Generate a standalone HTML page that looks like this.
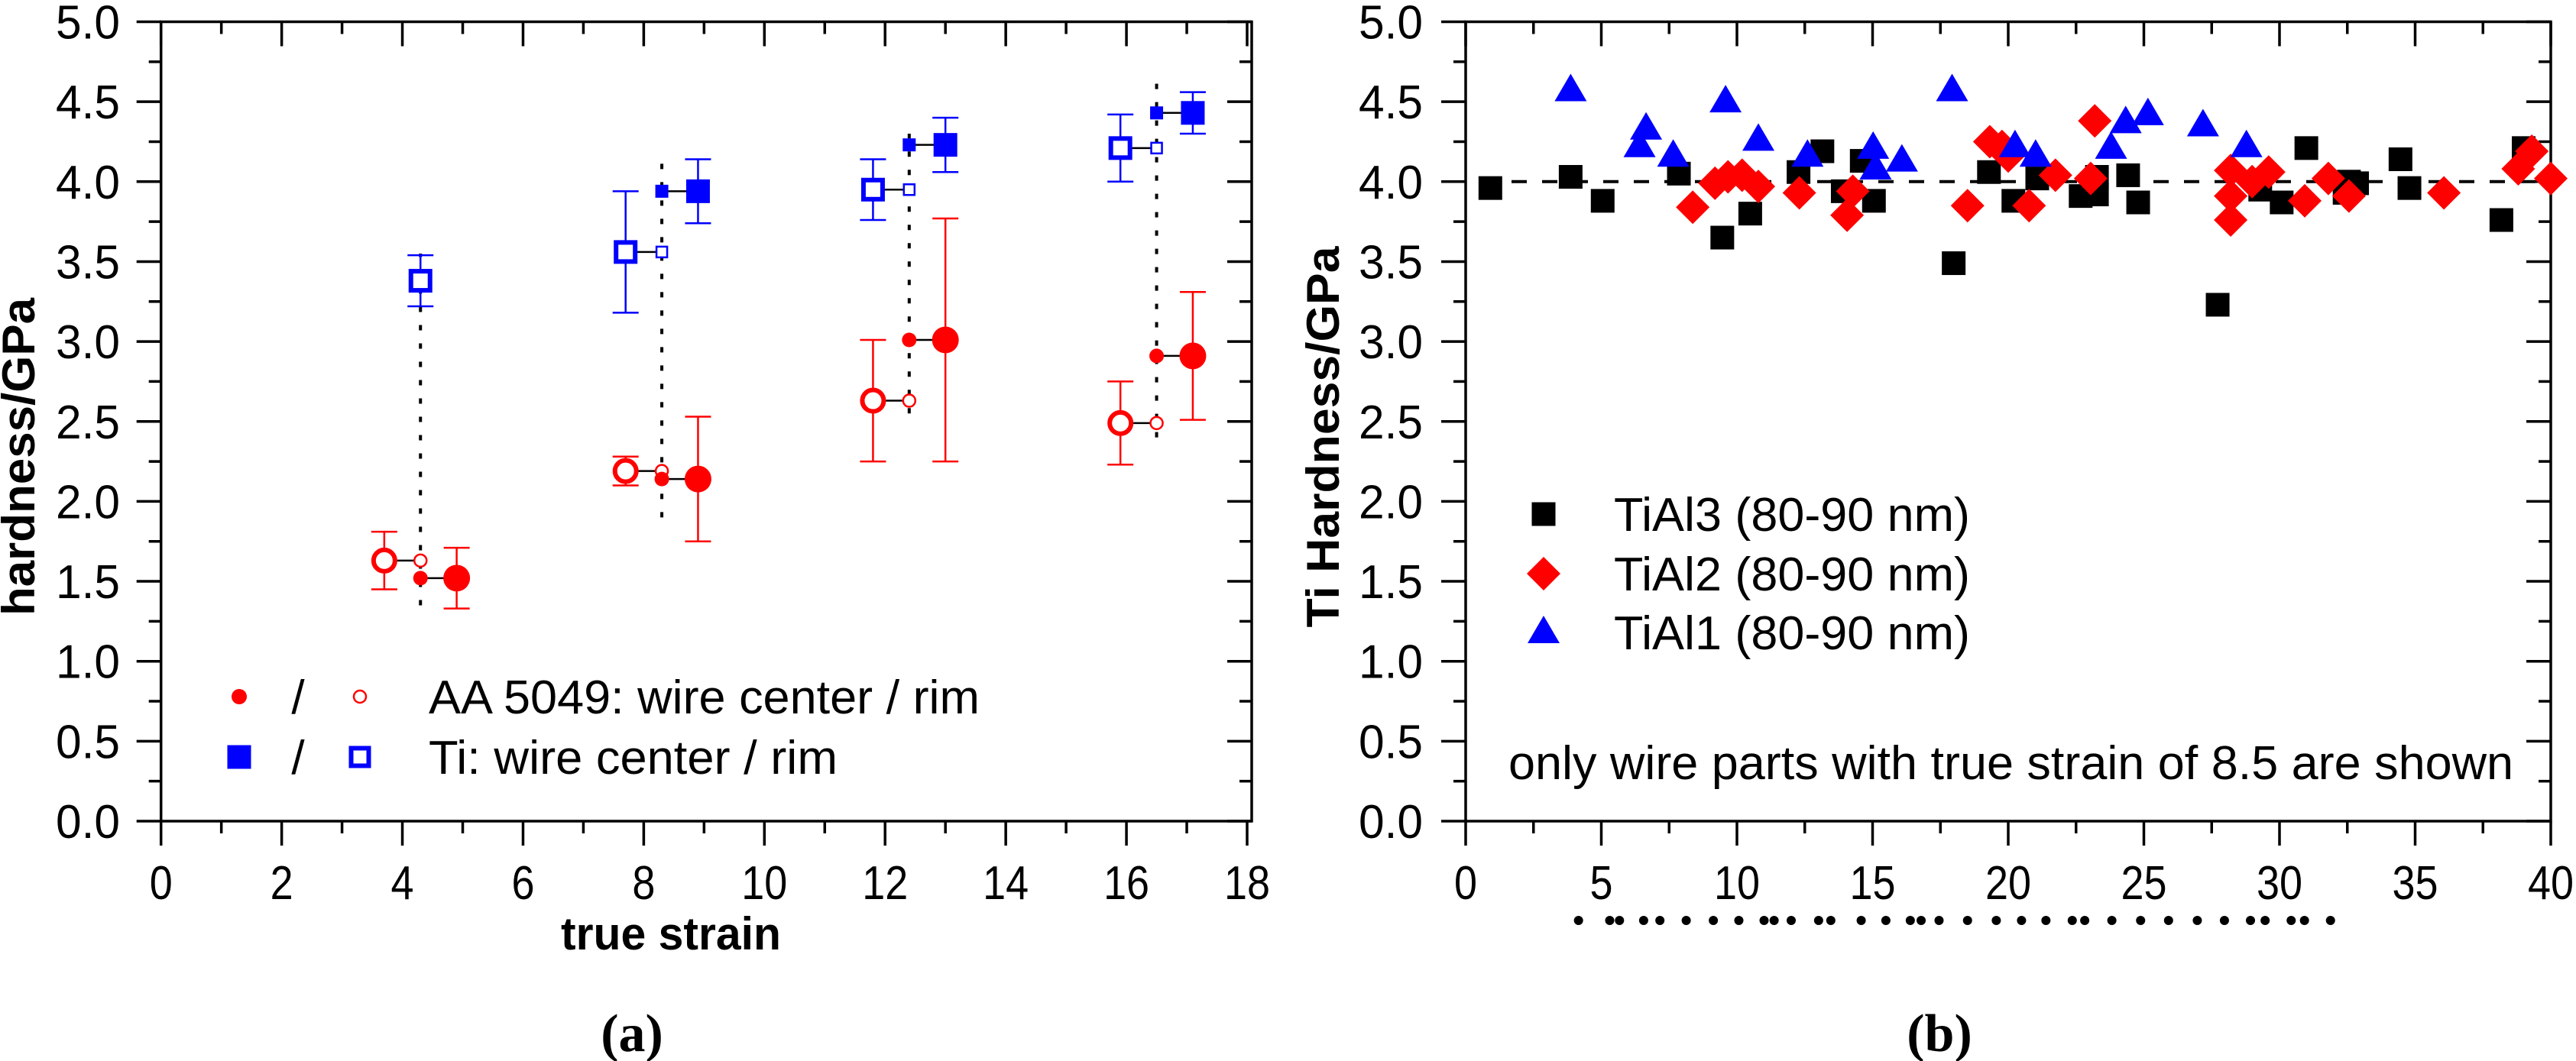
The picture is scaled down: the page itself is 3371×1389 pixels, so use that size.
<!DOCTYPE html>
<html><head><meta charset="utf-8"><style>
html,body{margin:0;padding:0;background:#fff;}
svg{display:block;}
text{font-family:"Liberation Sans Narrow","Liberation Sans",sans-serif;}
</style></head><body>
<svg id="fig" width="3371" height="1389" viewBox="0 0 3371 1389" xmlns="http://www.w3.org/2000/svg"></svg>
<script>
// ---------- Chart (a) data ----------
const aGroups = [4.3, 8.3, 12.4, 16.5];
const tiRimBig = [3.38, 3.56, 3.95, 4.21];
const tiRimBigLo = [3.22, 3.18, 3.76, 4.00];
const tiRimBigHi = [3.54, 3.94, 4.14, 4.42];
const tiCenter = [null, 3.94, 4.23, 4.43];
const tiCenterLo = [null, 3.74, 4.06, 4.30];
const tiCenterHi = [null, 4.14, 4.40, 4.56];
const alRim = [1.63, 2.19, 2.63, 2.49];
const alRimLo = [1.45, 2.10, 2.25, 2.23];
const alRimHi = [1.81, 2.28, 3.01, 2.75];
const alCenter = [1.52, 2.14, 3.01, 2.91];
const alCenterLo = [1.33, 1.75, 2.25, 2.51];
const alCenterHi = [1.71, 2.53, 3.77, 3.31];
const dotLo = [1.35, 1.90, 2.55, 2.40];
const dotHi = [3.55, 4.12, 4.30, 4.62];
const aXTicks = ["0","2","4","6","8","10","12","14","16","18"];
const yTicks = ["0.0","0.5","1.0","1.5","2.0","2.5","3.0","3.5","4.0","4.5","5.0"];
// ---------- Chart (b) data ----------
const tial3X = [0.91,3.87,5.05,7.86,9.46,10.49,12.27,13.15,13.9,14.6,15.05,17.99,19.29,20.19,21.07,22.67,23.27,23.27,24.42,24.79,27.72,29.29,30.08,30.99,32.4,32.56,32.86,34.46,34.79,38.18,39.0];
const tial3Y = [3.96,4.03,3.88,4.05,3.65,3.80,4.06,4.19,3.94,4.13,3.88,3.49,4.06,3.88,4.02,3.91,4.03,3.92,4.04,3.87,3.23,3.95,3.87,4.21,3.93,4.00,3.99,4.14,3.96,3.76,4.21];
const tial2X = [8.37,9.19,9.67,10.19,10.79,12.3,14.06,14.27,18.5,19.32,19.77,20.0,20.77,21.74,23.19,23.04,28.2,28.2,28.2,28.99,29.6,30.93,31.8,32.56,36.06,38.8,39.3,40.0];
const tial2Y = [3.84,3.99,4.03,4.04,3.97,3.93,3.79,3.94,3.85,4.25,4.22,4.16,3.85,4.04,4.38,4.02,4.07,3.76,3.91,4.00,4.06,3.88,4.02,3.91,3.93,4.08,4.19,4.02];
const tial1X = [3.87,6.41,6.65,7.65,9.58,10.79,12.6,15.02,15.11,16.08,17.93,20.25,21.01,23.79,24.33,25.15,27.18,28.78];
const tial1Y = [4.57,4.22,4.33,4.16,4.50,4.26,4.16,4.21,4.08,4.13,4.57,4.22,4.16,4.21,4.37,4.42,4.35,4.22];
const refLevel = [4.0];
const stripX = [4.16,5.31,5.67,6.56,7.16,8.13,9.13,10.07,11.0,11.37,12.0,13.01,13.46,14.58,15.49,16.39,16.79,17.45,18.5,19.56,20.49,21.39,22.36,22.82,23.82,24.88,25.91,26.97,27.97,28.93,29.47,30.43,30.92,31.88];
const bXTicks = ["0","5","10","15","20","25","30","35","40"];

const NS = "http://www.w3.org/2000/svg";
const svg = document.getElementById('fig');
function el(tag, attrs, parent, txt){
  const e = document.createElementNS(NS, tag);
  for (const k in attrs) e.setAttribute(k, attrs[k]);
  if (txt !== undefined) e.textContent = txt;
  (parent||svg).appendChild(e);
  return e;
}
// axes
const Y0 = 1075, Y5 = 28.5;
function ys(v){ return Y0 - (v/5)*(Y0-Y5); }
const aL = 210.7, aR18 = 1632, aFrameR = 1638;
function xa(v){ return aL + v*(aR18-aL)/18; }
const bL = 1918, bR = 3338;
function xb(v){ return bL + v*(bR-bL)/40; }

function frame(g, L, R, xTicksPos, xMinorPos, name){
  const f = el('rect',{x:L,y:Y5,width:R-L,height:Y0-Y5,fill:'none',stroke:'#000','stroke-width':3.5},g);
   
  // y ticks (left out, right in)
  for (let i=0;i<=20;i++){
    const v=i*0.25, y=ys(v), len = (i%2===0)?32:16;
    el('line',{x1:L-len,y1:y,x2:L,y2:y,stroke:'#000','stroke-width':3.5},g);
    el('line',{x1:R,y1:y,x2:R-len,y2:y,stroke:'#000','stroke-width':3.5},g);
  }
  xTicksPos.forEach(x=>{
    el('line',{x1:x,y1:Y0,x2:x,y2:Y0+32,stroke:'#000','stroke-width':3.5},g);
    el('line',{x1:x,y1:Y5,x2:x,y2:Y5+32,stroke:'#000','stroke-width':3.5},g);
  });
  xMinorPos.forEach(x=>{
    el('line',{x1:x,y1:Y0,x2:x,y2:Y0+16,stroke:'#000','stroke-width':3.5},g);
    el('line',{x1:x,y1:Y5,x2:x,y2:Y5+16,stroke:'#000','stroke-width':3.5},g);
  });
}
function yLabels(g, rightEdge){
  yTicks.forEach((t,i)=>{
    const tx = el('text',{x:rightEdge,y:ys(i*0.5)+22,'font-size':62,'text-anchor':'end',textLength:84,lengthAdjust:'spacingAndGlyphs'},g,t);
     
  });
}

// ================= Chart (a) =================
const ga = el('g',{});  
frame(ga, aL, aFrameR, aXTicks.map((t,i)=>xa(i*2)), aXTicks.slice(0,9).map((t,i)=>xa(i*2+1)), 'chart-a');
yLabels(ga, 157);
aXTicks.forEach((t,i)=>{
  const tx = el('text',{x:xa(i*2),y:1177,'font-size':62,'text-anchor':'middle'},ga,t);
   
  tx.setAttribute('textLength', t.length*30); tx.setAttribute('lengthAdjust','spacingAndGlyphs');
});
let t = el('text',{x:878,y:1243,'font-size':60,'font-weight':'bold','text-anchor':'middle',textLength:288,lengthAdjust:'spacingAndGlyphs'},ga,'true strain');
 
t = el('text',{x:0,y:0,'font-size':60,'font-weight':'bold','text-anchor':'middle',textLength:416,lengthAdjust:'spacingAndGlyphs',transform:'translate(45,598) rotate(-90)'},ga,'hardness/GPa');
 
t = el('text',{x:827,y:1376,'font-size':70,'font-weight':'bold','text-anchor':'middle','font-family':'Liberation Serif, serif'},ga,'(a)');
t.style.fontFamily='"Liberation Serif",serif';
 

const RED='#ff0000', BLUE='#0000ff';
function errbar(x,lo,hi,col){
  el('line',{x1:x,y1:ys(lo),x2:x,y2:ys(hi),stroke:col,'stroke-width':2.5},ga);
  el('line',{x1:x-17,y1:ys(lo),x2:x+17,y2:ys(lo),stroke:col,'stroke-width':2.5},ga);
  el('line',{x1:x-17,y1:ys(hi),x2:x+17,y2:ys(hi),stroke:col,'stroke-width':2.5},ga);
}
aGroups.forEach((g,i)=>{
  const xl = xa(g-0.6), xm = xa(g), xr = xa(g+0.6);
  // dotted
  const d = el('line',{x1:xm,y1:ys(dotLo[i]),x2:xm,y2:ys(dotHi[i]),stroke:'#000','stroke-width':4,'stroke-dasharray':'7 17'},ga);
   
  // Al rim
  errbar(xl, alRimLo[i], alRimHi[i], RED);
  el('line',{x1:xl,y1:ys(alRim[i]),x2:xm,y2:ys(alRim[i]),stroke:'#000','stroke-width':2.5},ga);
  let c = el('circle',{cx:xl,cy:ys(alRim[i]),r:14,fill:'#fff',stroke:RED,'stroke-width':6},ga);
   
  c = el('circle',{cx:xm,cy:ys(alRim[i]),r:8,fill:'#fff',stroke:RED,'stroke-width':2.5},ga);
   
  // Al center
  errbar(xr, alCenterLo[i], alCenterHi[i], RED);
  el('line',{x1:xm,y1:ys(alCenter[i]),x2:xr,y2:ys(alCenter[i]),stroke:'#000','stroke-width':2.5},ga);
  c = el('circle',{cx:xm,cy:ys(alCenter[i]),r:9.5,fill:RED},ga);
   
  c = el('circle',{cx:xr,cy:ys(alCenter[i]),r:17.5,fill:RED},ga);
   
  // Ti rim
  const txr = (i===0)? xm : xl;
  errbar(txr, tiRimBigLo[i], tiRimBigHi[i], BLUE);
  if (i>0) el('line',{x1:xl,y1:ys(tiRimBig[i]),x2:xm,y2:ys(tiRimBig[i]),stroke:'#000','stroke-width':2.5},ga);
  let s = el('rect',{x:txr-12.5,y:ys(tiRimBig[i])-12.5,width:25,height:25,fill:'#fff',stroke:BLUE,'stroke-width':6},ga);
   
  if (i>0){
    s = el('rect',{x:xm-7,y:ys(tiRimBig[i])-7,width:14,height:14,fill:'#fff',stroke:BLUE,'stroke-width':2.5},ga);
     
  }
  // Ti center
  if (tiCenter[i]!==null){
    errbar(xr, tiCenterLo[i], tiCenterHi[i], BLUE);
    el('line',{x1:xm,y1:ys(tiCenter[i]),x2:xr,y2:ys(tiCenter[i]),stroke:'#000','stroke-width':2.5},ga);
    s = el('rect',{x:xm-8.5,y:ys(tiCenter[i])-8.5,width:17,height:17,fill:BLUE},ga);
     
    s = el('rect',{x:xr-15.5,y:ys(tiCenter[i])-15.5,width:31,height:31,fill:BLUE},ga);
     
  }
});
// legend (a)
const la = el('g',{},ga);  
el('circle',{cx:313,cy:912,r:10,fill:RED},la);
el('text',{x:390,y:934,'font-size':62,'text-anchor':'middle'},la,'/');
el('circle',{cx:471,cy:912,r:8,fill:'#fff',stroke:RED,'stroke-width':2.5},la);
t = el('text',{x:561,y:934,'font-size':62,textLength:721,lengthAdjust:'spacingAndGlyphs'},la,'AA 5049: wire center / rim');
 
el('rect',{x:297.5,y:975.5,width:31,height:31,fill:BLUE},la);
el('text',{x:390,y:1013,'font-size':62,'text-anchor':'middle'},la,'/');
el('rect',{x:459.5,y:979.5,width:23,height:23,fill:'#fff',stroke:BLUE,'stroke-width':6},la);
t = el('text',{x:561,y:1013,'font-size':62,textLength:535,lengthAdjust:'spacingAndGlyphs'},la,'Ti: wire center / rim');
 

// ================= Chart (b) =================
const gb = el('g',{});  
frame(gb, bL, bR, bXTicks.map((t,i)=>xb(i*5)), bXTicks.slice(0,8).map((t,i)=>xb(i*5+2.5)), 'chart-b');
yLabels(gb, 1862);
bXTicks.forEach((tk,i)=>{
  const tx = el('text',{x:xb(i*5),y:1177,'font-size':62,'text-anchor':'middle'},gb,tk);
   
  tx.setAttribute('textLength', tk.length*30); tx.setAttribute('lengthAdjust','spacingAndGlyphs');
});
t = el('text',{x:0,y:0,'font-size':60,'font-weight':'bold','text-anchor':'middle',textLength:499,lengthAdjust:'spacingAndGlyphs',transform:'translate(1752,572) rotate(-90)'},gb,'Ti Hardness/GPa');
 
t = el('text',{x:2538,y:1376,'font-size':70,'font-weight':'bold','text-anchor':'middle'},gb,'(b)');
t.style.fontFamily='"Liberation Serif",serif';
 
// reference dashed line
refLevel.forEach(v=>{
  const l = el('line',{x1:bL,y1:ys(v),x2:bR,y2:ys(v),stroke:'#000','stroke-width':4,'stroke-dasharray':'20 20','stroke-dashoffset':-20},gb);
   
});
tial3X.forEach((x,i)=>{
  const r = el('rect',{x:xb(x)-15.5,y:ys(tial3Y[i])-15.5,width:31,height:31,fill:'#000'},gb);
   
});
tial2X.forEach((x,i)=>{
  const cx=xb(x), cy=ys(tial2Y[i]), h=22;
  const p = el('polygon',{points:`${cx},${cy-h} ${cx+h},${cy} ${cx},${cy+h} ${cx-h},${cy}`,fill:RED},gb);
   
});
tial1X.forEach((x,i)=>{
  const cx=xb(x), cy=ys(tial1Y[i]);
  const p = el('polygon',{points:`${cx},${cy-22} ${cx+21},${cy+14} ${cx-21},${cy+14}`,fill:BLUE},gb);
   
});
stripX.forEach(x=>{
  const c = el('circle',{cx:xb(x),cy:1205,r:6,fill:'#000'},gb);
   
});
// legend (b)
const lb = el('g',{},gb);  
el('rect',{x:2020-15.5,y:673-15.5,width:31,height:31,fill:'#000'},lb);
el('polygon',{points:'2020,729 2042,751 2020,773 1998,751',fill:RED},lb);
el('polygon',{points:'2020,806 2041,842 1999,842',fill:BLUE},lb);
[['TiAl3 (80-90 nm)',695],['TiAl2 (80-90 nm)',773],['TiAl1 (80-90 nm)',850]].forEach(([s,y])=>{
  const tx = el('text',{x:2112,y:y,'font-size':62,textLength:466,lengthAdjust:'spacingAndGlyphs'},lb,s);
   
});
t = el('text',{x:1974,y:1020,'font-size':62,textLength:1315,lengthAdjust:'spacingAndGlyphs'},gb,'only wire parts with true strain of 8.5 are shown');
 
</script>
</body></html>
